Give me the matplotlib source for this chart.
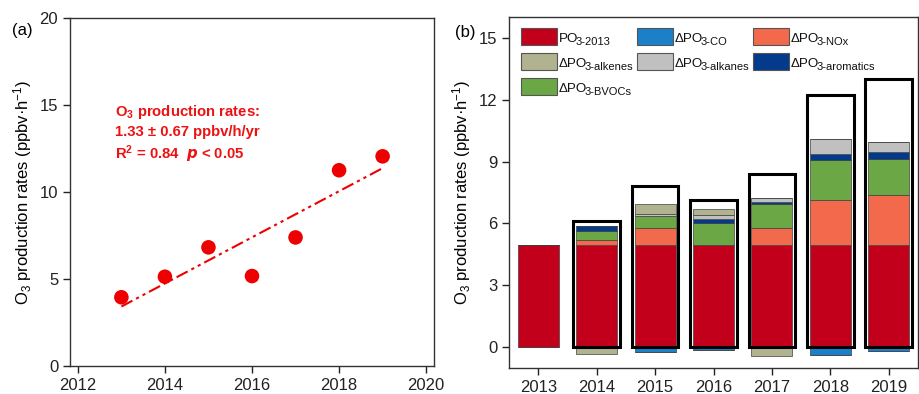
import numpy as np
import matplotlib
matplotlib.use('Agg')
import matplotlib.pyplot as plt
from matplotlib.patches import Rectangle

plt.rcParams['font.family'] = ['Liberation Sans', 'DejaVu Sans']
plt.rcParams['mathtext.fontset'] = 'custom'
plt.rcParams['mathtext.rm'] = 'Liberation Sans'
plt.rcParams['mathtext.it'] = 'Liberation Sans:italic'
plt.rcParams['mathtext.bf'] = 'Liberation Sans:bold'

# panel (a) data
years_a = [2013, 2014, 2015, 2016, 2017, 2018, 2019]
po3_a = [3.95, 5.13, 6.82, 5.17, 7.39, 11.25, 12.05]

# panel (b) data
years_b = ['2013', '2014', '2015', '2016', '2017', '2018', '2019']
po3_2013 = [4.94, 4.94, 4.94, 4.94, 4.94, 4.94, 4.94]
d_nox = [0, 0.26, 0.84, 0, 0.83, 2.19, 2.45]
d_bvocs = [0, 0.45, 0.58, 1.09, 1.16, 1.94, 1.74]
d_arom = [0, 0.23, 0, 0.20, 0.13, 0.29, 0.34]
d_alkanes = [0, 0, 0.10, 0.16, 0.16, 0.74, 0.47]
d_alkenes = [0, -0.30, 0.48, 0.29, -0.42, 0, 0]
d_co = [0, 0, -0.24, -0.12, 0, -0.38, -0.18]
total_obs = [np.nan, 6.13, 7.80, 7.16, 8.40, 12.24, 13.00]

c_red = '#C2001B'
c_co = '#1B80C8'
c_nox = '#F26A4B'
c_alkenes = '#B1B28F'
c_alkanes = '#C0C0C0'
c_arom = '#033A8C'
c_bvocs = '#6BA845'

W, H = 919, 394
fig = plt.figure(figsize=(W/100, H/100), dpi=100)
axa = fig.add_axes([70/W, 28/H, 364/W, 348/H])
axb = fig.add_axes([509/W, 26/H, 409/W, 351/H])

# ---- (a)
axa.scatter(years_a, po3_a, s=110, color='#EE0000', zorder=3, edgecolors='none')
k, b = np.polyfit(years_a, po3_a, 1)
xf = np.array([2013, 2019])
axa.plot(xf, k*xf + b, color='#EE0000', lw=1.5, dashes=[6, 2, 1.5, 2, 1.5, 2])
axa.set_xlim(2011.82, 2020.18)
axa.set_ylim(0, 20)
axa.set_xticks([2012, 2014, 2016, 2018, 2020])
axa.set_yticks([0, 5, 10, 15, 20])
axa.set_ylabel('O$_3$ production rates (ppbv·h$^{-1}$)', fontsize=12, labelpad=4)
tc = '#EE1111'
axa.text(2012.85, 14.6, 'O$_\\mathbf{3}$ production rates:', color=tc, fontsize=10.7,
         fontweight='bold', va='center')
axa.text(2012.85, 13.45, '1.33 ± 0.67 ppbv/h/yr', color=tc, fontsize=10.7,
         fontweight='bold', va='center')
axa.text(2012.85, 12.2, 'R$^\\mathbf{2}$ = 0.84  $\\mathbfit{p}$ < 0.05', color=tc, fontsize=10.7,
         fontweight='bold', va='center')
fig.text(12/W, 1 - 30/H, '(a)', fontsize=12, va='center')

# ---- (b)
x = np.arange(len(years_b))
w = 0.7
ec = '#404040'
axb.bar(x, po3_2013, w, color=c_red, edgecolor=ec, lw=0.5, zorder=2)
bottom = np.array(po3_2013, dtype=float)
for vals, col in [(d_nox, c_nox), (d_bvocs, c_bvocs), (d_arom, c_arom),
                  (d_alkanes, c_alkanes), (d_alkenes, c_alkenes)]:
    v = np.array(vals, dtype=float)
    pos = np.where(v > 0, v, 0)
    axb.bar(x, pos, w, bottom=bottom, color=col, edgecolor=ec, lw=0.5, zorder=2)
    bottom = bottom + pos
# negative contributions below zero
neg_bottom = np.zeros(len(x))
for vals, col in [(d_co, c_co), (d_alkenes, c_alkenes)]:
    v = np.array(vals, dtype=float)
    neg = np.where(v < 0, v, 0)
    axb.bar(x, neg, w, bottom=neg_bottom, color=col, edgecolor=ec, lw=0.5, zorder=2)
    neg_bottom = neg_bottom + neg
# observed totals as outline boxes
axb.bar(x, total_obs, 0.8, facecolor='none', edgecolor='black', lw=2.2, zorder=3)

axb.set_xlim(-0.5, 6.5)
axb.set_ylim(-1, 16)
axb.set_xticks(x)
axb.set_xticklabels(years_b)
axb.set_yticks([0, 3, 6, 9, 12, 15])
axb.set_ylabel('O$_3$ production rates (ppbv·h$^{-1}$)', fontsize=12, labelpad=4)
fig.text(455/W, 1 - 32/H, '(b)', fontsize=12, va='center')

for ax in (axa, axb):
    for s in ax.spines.values():
        s.set_color('#333333')
        s.set_linewidth(1.0)
    ax.tick_params(direction='out', length=5, width=1, labelsize=12, colors='#222222')

# legend built by hand so the subscripts keep their large size
leg_items = [('PO', '3-2013', c_red), ('ΔPO', '3-CO', c_co), ('ΔPO', '3-NOx', c_nox),
             ('ΔPO', '3-alkenes', c_alkenes), ('ΔPO', '3-alkanes', c_alkanes),
             ('ΔPO', '3-aromatics', c_arom), ('ΔPO', '3-BVOCs', c_bvocs)]
col_x = [521, 637, 753]
row_y = [28, 53, 78]
fig.canvas.draw()
rend = fig.canvas.get_renderer()
for i, (main, sub, col) in enumerate(leg_items):
    px = col_x[i % 3]
    py = row_y[i // 3]
    fig.add_artist(Rectangle((px/W, 1 - (py + 16.5)/H), 35.5/W, 16.5/H,
                             transform=fig.transFigure, fc=col, ec='#555555', lw=0.8))
    base = py + 13.8
    t = fig.text((px + 38)/W, 1 - base/H, main, fontsize=9.6, va='baseline', color='#111111')
    x1 = t.get_window_extent(rend).x1 - 2.5
    fig.text(x1/W, 1 - (base + 3.5)/H, sub, fontsize=8, va='baseline', color='#111111')

fig.savefig('out.png', dpi=100)
